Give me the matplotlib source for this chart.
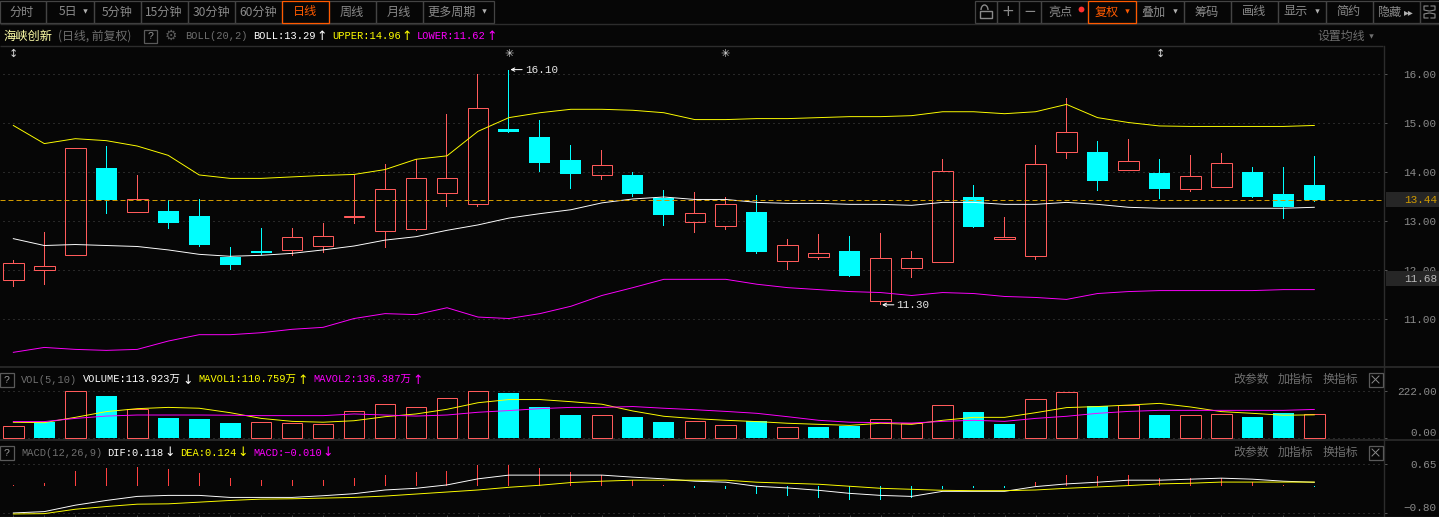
#!/usr/bin/env python
# -*- coding: utf-8 -*-
import matplotlib as mpl
mpl.use('Agg')
import matplotlib.pyplot as plt
from matplotlib.patches import Rectangle, Arc
import numpy as np

# candles
candle_high = [12.21, 12.78, 14.51, 14.54, 13.95, 13.43, 13.45, 12.48, 12.86, 12.86, 12.97, 13.95, 14.17, 14.27, 15.19, 16.00, 16.10, 15.07, 14.56, 14.46, 14.00, 13.64, 13.60, 13.50, 13.54, 12.64, 12.74, 12.70, 12.76, 12.39, 14.27, 13.74, 13.09, 14.56, 15.52, 14.64, 14.68, 14.27, 14.35, 14.39, 14.11, 14.11, 14.33]
candle_top = [12.16, 12.10, 14.51, 14.09, 13.45, 13.21, 13.11, 12.28, 12.39, 12.69, 12.71, 13.11, 13.67, 13.88, 13.88, 15.31, 14.88, 14.72, 14.25, 14.16, 13.95, 13.48, 13.18, 13.35, 13.19, 12.53, 12.35, 12.39, 12.26, 12.26, 14.04, 13.50, 12.69, 14.18, 14.82, 14.42, 14.24, 13.99, 13.92, 14.20, 14.01, 13.56, 13.74]
candle_bottom = [11.80, 12.00, 12.31, 13.43, 13.20, 12.97, 12.52, 12.12, 12.35, 12.41, 12.51, 13.10, 12.80, 12.84, 13.59, 13.35, 14.83, 14.20, 13.97, 13.94, 13.57, 13.14, 12.99, 12.90, 12.38, 12.20, 12.28, 11.89, 11.37, 12.06, 12.18, 12.89, 12.65, 12.29, 14.41, 13.83, 14.06, 13.67, 13.67, 13.71, 13.50, 13.30, 13.44]
candle_low = [11.67, 11.71, 12.31, 13.16, 13.20, 12.85, 12.48, 12.01, 12.31, 12.30, 12.36, 12.95, 12.46, 12.80, 13.30, 13.30, 14.81, 14.01, 13.67, 13.85, 13.50, 12.91, 12.77, 12.83, 12.34, 12.01, 12.22, 11.87, 11.30, 11.84, 12.18, 12.87, 12.65, 12.22, 14.28, 13.63, 14.06, 13.46, 13.61, 13.71, 13.48, 13.05, 13.40]
candle_up = [1, 1, 1, 0, 1, 0, 0, 0, 0, 1, 1, 1, 1, 1, 1, 1, 0, 0, 0, 1, 0, 0, 1, 1, 0, 1, 1, 0, 1, 1, 1, 0, 1, 1, 1, 0, 1, 0, 1, 1, 0, 0, 0]

# bollinger bands
boll_upper = [14.96, 14.59, 14.69, 14.65, 14.54, 14.35, 13.95, 13.88, 13.88, 13.91, 13.94, 13.96, 14.06, 14.27, 14.34, 14.84, 15.12, 15.22, 15.29, 15.29, 15.27, 15.22, 15.08, 15.08, 15.10, 15.10, 15.12, 15.14, 15.14, 15.16, 15.24, 15.24, 15.20, 15.24, 15.39, 15.12, 15.02, 14.95, 14.94, 14.94, 14.94, 14.94, 14.96]
boll_mid = [12.65, 12.51, 12.53, 12.51, 12.49, 12.42, 12.33, 12.29, 12.31, 12.35, 12.42, 12.50, 12.62, 12.69, 12.82, 12.93, 13.07, 13.16, 13.24, 13.38, 13.46, 13.50, 13.45, 13.45, 13.39, 13.37, 13.37, 13.35, 13.35, 13.33, 13.39, 13.39, 13.35, 13.35, 13.39, 13.35, 13.29, 13.27, 13.27, 13.27, 13.27, 13.27, 13.29]
boll_lower = [10.33, 10.43, 10.39, 10.37, 10.39, 10.56, 10.69, 10.69, 10.73, 10.80, 10.84, 11.02, 11.12, 11.10, 11.24, 11.05, 11.02, 11.12, 11.27, 11.49, 11.65, 11.82, 11.82, 11.82, 11.72, 11.65, 11.61, 11.57, 11.55, 11.49, 11.55, 11.53, 11.47, 11.45, 11.41, 11.53, 11.57, 11.59, 11.59, 11.59, 11.59, 11.61, 11.61]

# volume (in 万)
volume = [56.7, 78.7, 222, 200, 137, 96, 91, 72, 75.6, 71, 66, 127.5, 160.5, 146, 189, 222, 214, 148, 110, 108.6, 100.7, 77, 80, 61, 82, 52, 53.5, 58, 93, 71, 156, 124, 68, 184, 217, 153, 157, 110, 109, 113, 101, 120, 113.9]
volume_up = [1, 0, 1, 0, 1, 0, 0, 0, 1, 1, 1, 1, 1, 1, 1, 1, 0, 0, 0, 1, 0, 0, 1, 1, 0, 1, 0, 0, 1, 1, 1, 0, 0, 1, 1, 0, 1, 0, 1, 1, 0, 0, 1]
mavol1 = [75.6, 74, 99, 126, 140, 146, 142, 121, 94, 80, 76, 83, 102, 115, 137, 168, 183, 183, 173, 161, 129, 104, 93, 85, 79, 71, 66, 61, 71, 66, 85, 99, 99, 121, 145, 150, 157, 165, 148, 126, 118, 109, 110.8]
mavol2 = [79, 79, 94, 105, 110, 110, 110, 109, 107, 107, 107, 115, 110, 105, 110, 123, 131, 140, 146, 146, 150, 142, 135, 127, 118, 102, 85, 76, 74, 72, 80, 85, 80, 94, 104, 118, 127, 132, 132, 132, 132, 132, 136.4]

# macd
macd_hist = [0.04, 0.10, 0.45, 0.55, 0.57, 0.51, 0.39, 0.25, 0.19, 0.19, 0.19, 0.25, 0.34, 0.42, 0.45, 0.63, 0.63, 0.54, 0.42, 0.34, 0.19, 0.04, -0.05, -0.07, -0.23, -0.29, -0.35, -0.40, -0.40, -0.35, -0.07, -0.05, -0.05, 0.13, 0.34, 0.31, 0.34, 0.25, 0.25, 0.25, 0.13, 0.04, -0.01]
dif = [-0.79, -0.75, -0.56, -0.42, -0.30, -0.27, -0.27, -0.33, -0.33, -0.33, -0.28, -0.22, -0.11, -0.06, 0.04, 0.22, 0.33, 0.33, 0.33, 0.33, 0.27, 0.22, 0.15, 0.12, 0.00, -0.05, -0.12, -0.21, -0.27, -0.30, -0.15, -0.15, -0.15, -0.01, 0.07, 0.12, 0.18, 0.18, 0.21, 0.24, 0.21, 0.15, 0.118]
dea = [-0.82, -0.81, -0.68, -0.60, -0.53, -0.52, -0.47, -0.42, -0.38, -0.37, -0.35, -0.33, -0.29, -0.23, -0.17, -0.11, -0.03, 0.03, 0.11, 0.15, 0.18, 0.18, 0.18, 0.18, 0.12, 0.09, 0.06, 0.00, -0.06, -0.09, -0.12, -0.13, -0.13, -0.11, -0.06, -0.02, 0.02, 0.07, 0.09, 0.124, 0.124, 0.124, 0.124]

price_ticks = [11, 12, 13, 14, 15, 16]
volume_ticks = [0, 222]
macd_ticks = [-0.80, 0.65]
last_price = 13.44

# colours
bg = '#060606'
red = '#ff5a5a'
cyan = '#00ffff'
yellow = '#ffff00'
magenta = '#ff00ff'
gray = '#8a8a8a'
line_gray = '#2c2c2c'
gold = '#d09a00'
orange = '#ff5a00'

cjk = ['Noto Sans CJK SC', 'DejaVu Sans']
mono = ['Liberation Mono', 'Noto Sans CJK SC', 'DejaVu Sans']

W, H = 1439.0, 517.0
right_edge = 1384.0
first_x = 13.33
step = 30.976
px = 72.0 / 100  # one pixel in points
curve_lw = px * 0.95

fig = plt.figure(figsize=(W / 100, H / 100), dpi=100, facecolor=bg)
x = np.arange(len(candle_high))


def make_panel(top, bottom, val_a, y_a, val_b, y_b, ticks, fmt, lift_lowest=False):
    # panel between two pixel rows, y limits from two known value/pixel pairs
    ax = fig.add_axes([0, 1 - bottom / H, right_edge / W, (bottom - top) / H], facecolor=bg)
    per_px = (val_a - val_b) / (y_b - y_a)
    ax.set_ylim(val_a - (bottom - y_a) * per_px, val_a + (y_a - top) * per_px)
    ax.set_xlim(-first_x / step, (right_edge - first_x) / step)
    for side in ['left', 'top', 'bottom']:
        ax.spines[side].set_visible(False)
    ax.spines['right'].set_color(line_gray)
    ax.spines['right'].set_linewidth(1.0)
    ax.yaxis.tick_right()
    ax.set_yticks(ticks)
    ax.set_yticklabels([fmt.format(t).replace('-', '\u2212') for t in ticks])
    ax.tick_params(axis='y', length=2.2, width=px, color='#555555', pad=35.6,
                   labelcolor=gray, labelsize=7.9)
    for tick in ax.yaxis.get_major_ticks():
        tick.label2.set_ha('right')
        tick.label2.set_family(mono)
    if lift_lowest:
        # the lowest label sits above its grid line so that it stays inside the panel
        ax.yaxis.get_major_ticks()[0].label2.set_va('bottom')
    ax.set_xticks([])
    ax.hlines(ticks, ax.get_xlim()[0] + 3 / step, ax.get_xlim()[1] - 3 / step, color='#4a4a4a',
              linewidth=px, linestyles=(0, (1.0, 4.0)), zorder=1)
    return ax


def draw_bars(ax, pos, bottoms, tops, ups):
    for i in pos:
        h = tops[i] - bottoms[i]
        if ups[i]:
            ax.bar(i, h, bottom=bottoms[i], width=0.665, facecolor='none', edgecolor=red,
                   linewidth=px, zorder=3, snap=True)
        else:
            ax.bar(i, h, bottom=bottoms[i], width=0.68, color=cyan, linewidth=0, zorder=3, snap=True)


def draw_stems(ax, pos, y0, y1, color):
    # one pixel wide filled bars, these stay crisp where thin lines went pale
    ax.bar(pos, np.asarray(y1) - np.asarray(y0), bottom=y0, width=1 / step, color=color,
           linewidth=0, zorder=3, snap=True)


def draw_line(ax, values, color):
    ax.plot(x, values, color=color, linewidth=curve_lw, zorder=4)


### price panel
ax_price = make_panel(46, 367, 16.0, 74.5, 11.0, 319.5, price_ticks, '{:.2f}')
high = np.array(candle_high)
top = np.array(candle_top)
bottom = np.array(candle_bottom)
low = np.array(candle_low)
up = np.array(candle_up, dtype=bool)
draw_stems(ax_price, x[up], top[up], high[up], red)
draw_stems(ax_price, x[up], low[up], bottom[up], red)
draw_stems(ax_price, x[~up], low[~up], high[~up], cyan)
draw_bars(ax_price, x, candle_bottom, candle_top, candle_up)
draw_line(ax_price, boll_upper, yellow)
draw_line(ax_price, boll_mid, 'white')
draw_line(ax_price, boll_lower, magenta)
ax_price.axhline(last_price, xmin=0, xmax=0.998, color=gold, linewidth=px,
                 linestyle=(0, (5, 3)), zorder=5)

for i in [16, 28]:
    value = candle_high[i] if i == 16 else candle_low[i]
    ax_price.annotate('{:.2f}'.format(value), xy=(i, value), xytext=(11.5, 0), textcoords='offset points',
                      color='#e8e8e8', fontsize=7.9, family=mono, va='center', ha='left', zorder=6,
                      arrowprops=dict(arrowstyle='->', color='white', linewidth=px, shrinkA=0, shrinkB=1,
                                      mutation_scale=6))

### volume panel
ax_vol = make_panel(367, 440, 222.0, 391.3, 0.0, 438.3, volume_ticks, '{:.2f}', lift_lowest=True)
draw_bars(ax_vol, x, np.zeros(len(volume)), volume, volume_up)
draw_line(ax_vol, mavol1, yellow)
draw_line(ax_vol, mavol2, magenta)

### macd panel
ax_macd = make_panel(440, 517, 0.65, 464.3, -0.80, 513.3, macd_ticks, '{:.2f}', lift_lowest=True)
hist = np.array(macd_hist)
draw_stems(ax_macd, x[hist > 0], np.zeros((hist > 0).sum()), hist[hist > 0], '#ff4040')
draw_stems(ax_macd, x[hist < 0], np.zeros((hist < 0).sum()), hist[hist < 0], cyan)
draw_line(ax_macd, dif, 'white')
draw_line(ax_macd, dea, yellow)
ax_macd.set_xticks(x)
ax_macd.set_xticklabels([])
ax_macd.tick_params(axis='x', direction='in', length=1.5, width=px, color='#444444')

### toolbar, headers and the rest, in pixel coordinates
chrome = fig.add_axes([0, 0, 1, 1], zorder=10)
chrome.patch.set_alpha(0)
chrome.set_xlim(0, W)
chrome.set_ylim(H, 0)
chrome.axis('off')


def label(xpos, ypos, s, color=gray, size=8.7, family=cjk, ha='center'):
    chrome.text(xpos, ypos, s, color=color, fontsize=size, family=family, ha=ha, va='center')


def hline(ypos, x0=0, x1=W, color=line_gray, width=1.0):
    chrome.plot([x0, x1], [ypos, ypos], color=color, linewidth=width, solid_capstyle='butt')


def tri(xpos, ypos, color='#b0b0b0'):
    chrome.plot([xpos], [ypos], marker='v', markersize=3.2, color=color, markeredgewidth=0)


# left toolbar
left_edges = [-1, 45, 93.5, 140.5, 187.5, 234.5, 281.5, 328.5, 375.5, 422, 493]
left_names = ['分时', '5日', '5分钟', '15分钟', '30分钟', '60分钟', '日线', '周线', '月线', '更多周期']
left_shift = [0, -1, 0, 0, 0, 0, 0, 0, 0, -6]
for i, name in enumerate(left_names):
    x0, x1 = left_edges[i], left_edges[i + 1]
    active = name == '日线'
    chrome.add_patch(Rectangle((x0 + 0.5, 0.5), x1 - x0, 22, facecolor='none',
                               edgecolor=orange if active else '#444444', linewidth=0.9, zorder=3 if active else 2))
    label((x0 + x1) / 2 + left_shift[i], 12, name, color=orange if active else gray)
tri(85, 11)
tri(484, 11)

# right toolbar
right_edges = [974.3, 996.3, 1018.3, 1040.3, 1087, 1135.7, 1183.7, 1230.3, 1277.7, 1325.7, 1372.3, 1419.7, 1440]
right_names = ['', '+', '\u2212', '亮点', '复权', '叠加', '筹码', '画线', '显示', '简约', '隐藏', '']
right_shift = [0, 0, 0, -3, -5, -6, 0, 0, -6, 0, -7, 0]
for i, name in enumerate(right_names):
    x0, x1 = right_edges[i], right_edges[i + 1]
    active = name == '复权'
    chrome.add_patch(Rectangle((x0 + 0.5, 0.5), x1 - x0, 22, facecolor='none',
                               edgecolor=orange if active else '#444444', linewidth=0.9, zorder=3 if active else 2))
    if name in ['+', '\u2212']:
        label((x0 + x1) / 2, 11.5, name, size=11, family=['DejaVu Sans'])
    elif name:
        label((x0 + x1) / 2 + right_shift[i], 12, name, color=orange if active else gray)
tri(1127, 11, orange)
tri(1175, 11)
tri(1317, 11)
chrome.plot([1081], [9], marker='o', markersize=4.2, color='#ff3030', markeredgewidth=0)
label(1409, 12, '\u25b8\u25b8', size=7, family=['DejaVu Sans'], color='#b0b0b0')
# lock icon
chrome.add_patch(Rectangle((980, 11), 12, 7, facecolor='none', edgecolor=gray, linewidth=1.0))
chrome.add_patch(Arc((984.5, 10), 7, 10, theta1=180, theta2=360, edgecolor=gray, linewidth=1.0))
# fullscreen icon
for cx, cy, sx, sy in [(1424, 6, 1, 1), (1435, 6, -1, 1), (1424, 18, 1, -1), (1435, 18, -1, -1)]:
    chrome.plot([cx + 4 * sx, cx, cx, cx + 5 * sx], [cy, cy, cy + 4 * sy, cy + 5 * sy],
                color=gray, linewidth=0.8)

hline(24, 0, W)
hline(46, 0, right_edge - 1)
hline(367, 0, W, width=1.2)
hline(440, 0, W, width=1.2)
hline(516.5, 0, W, width=1.0)


def help_box(xpos, ypos):
    chrome.add_patch(Rectangle((xpos, ypos - 6.5), 13.5, 13.5, facecolor='none', edgecolor='#5a5a5a', linewidth=0.9))
    label(xpos + 6.8, ypos + 0.3, '?', size=7.5, family=mono, color='#9a9a9a')


# price header
label(3, 36, '海峡创新', color='#ffffa8', ha='left', size=8.8)
label(58, 36, '(日线, 前复权)', ha='left', size=8.6, color='#6f6f6f')
help_box(143.5, 36)
label(171, 35.5, '\u2699', size=10, family=['DejaVu Sans'], color='#5a5a5a')
header_size = 7.5
label(185, 36, 'BOLL(20,2)', color='#6f6f6f', family=mono, size=header_size, ha='left')
label(253, 36, 'BOLL:13.29', color='white', family=mono, size=header_size, ha='left')
label(322, 36, '\u2191', color='white', family=['DejaVu Sans'], size=9)
label(332, 36, 'UPPER:14.96', color=yellow, family=mono, size=header_size, ha='left')
label(407, 36, '\u2191', color=yellow, family=['DejaVu Sans'], size=9)
label(417, 36, 'LOWER:11.62', color=magenta, family=mono, size=header_size, ha='left')
label(492, 36, '\u2191', color=magenta, family=['DejaVu Sans'], size=9)
label(1317, 36, '设置均线', ha='left', size=8.6, color='#6f6f6f')
tri(1371, 36, '#6f6f6f')

# event markers above the candles
label(13.5, 54, '\u2195', color='#d8d8d8', family=['DejaVu Sans'], size=8)
label(1160, 54, '\u2195', color='#d8d8d8', family=['DejaVu Sans'], size=8)
label(509, 54, '\u2733', color='#d8d8d8', family=['DejaVu Sans'], size=8)
label(725, 54, '\u2733', color='#d8d8d8', family=['DejaVu Sans'], size=8)

# volume header
help_box(0, 379.5)
label(21, 380, 'VOL(5,10)', color='#6f6f6f', family=mono, size=header_size, ha='left')
label(83, 380, 'VOLUME:113.923万', color='white', family=mono, size=header_size, ha='left')
label(188, 380, '\u2193', color='white', family=['DejaVu Sans'], size=9)
label(198, 380, 'MAVOL1:110.759万', color=yellow, family=mono, size=header_size, ha='left')
label(303, 380, '\u2191', color=yellow, family=['DejaVu Sans'], size=9)
label(313, 380, 'MAVOL2:136.387万', color=magenta, family=mono, size=header_size, ha='left')
label(418, 380, '\u2191', color=magenta, family=['DejaVu Sans'], size=9)

# macd header
help_box(0, 452.5)
label(21, 452.5, 'MACD(12,26,9)', color='#6f6f6f', family=mono, size=header_size, ha='left')
label(107, 452.5, 'DIF:0.118', color='white', family=mono, size=header_size, ha='left')
label(170, 452.5, '\u2193', color='white', family=['DejaVu Sans'], size=9)
label(180, 452.5, 'DEA:0.124', color=yellow, family=mono, size=header_size, ha='left')
label(243, 452.5, '\u2193', color=yellow, family=['DejaVu Sans'], size=9)
label(253, 452.5, 'MACD:\u22120.010', color=magenta, family=mono, size=header_size, ha='left')
label(328, 452.5, '\u2193', color=magenta, family=['DejaVu Sans'], size=9)

# panel buttons on the right
for y_row in [379.5, 452.5]:
    label(1233, y_row, '改参数', ha='left', size=8.6, color='#6f6f6f')
    label(1278, y_row, '加指标', ha='left', size=8.6, color='#6f6f6f')
    label(1323, y_row, '换指标', ha='left', size=8.6, color='#6f6f6f')
    chrome.add_patch(Rectangle((1368.5, y_row - 7), 14, 14, facecolor='none', edgecolor='#5a5a5a', linewidth=0.9))
    chrome.plot([1372, 1379], [y_row - 3.5, y_row + 3.5], color='#8a8a8a', linewidth=0.7)
    chrome.plot([1372, 1379], [y_row + 3.5, y_row - 3.5], color='#8a8a8a', linewidth=0.7)

# current price and cursor boxes on the axis
chrome.add_patch(Rectangle((1386, 192), 53, 15, facecolor='#262626', edgecolor='none', zorder=5))
chrome.text(1437, 200, '13.44', color=gold, fontsize=7.9, family=mono, ha='right', va='center', zorder=6)
chrome.add_patch(Rectangle((1386, 270.5), 53, 15, facecolor='#262626', edgecolor='none', zorder=5))
chrome.text(1437, 278.5, '11.68', color='#b8b8b8', fontsize=7.9, family=mono, ha='right', va='center', zorder=6)

fig.savefig('out.png', dpi=100, facecolor=bg)
